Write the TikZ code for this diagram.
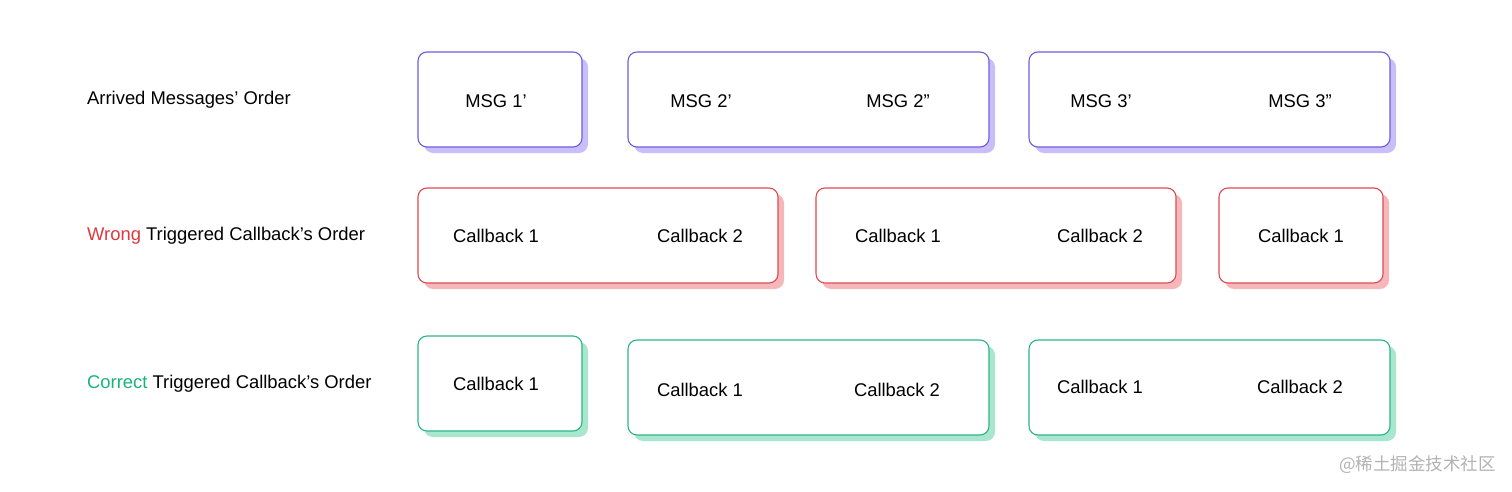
\documentclass[tikz,border=0pt]{standalone}
\usepackage{fontspec}
\setmainfont{Liberation Sans}
\newfontfamily\cjk{Noto Sans CJK SC}
\definecolor{bl}{HTML}{6F5BE0}\definecolor{bls}{HTML}{C9BEFA}
\definecolor{rd}{HTML}{DE4A50}\definecolor{rds}{HTML}{F6B7BA}
\definecolor{gn}{HTML}{2BB585}\definecolor{gns}{HTML}{A9E6CE}
\definecolor{rt}{HTML}{E0383E}\definecolor{gt}{HTML}{17B37B}
\tikzset{x=1pt,y=-1pt,
 lbl/.style={anchor=west,inner sep=0pt,font=\fontsize{18.4}{20}\selectfont},
 txt/.style={font=\fontsize{18.4}{20}\selectfont}}
\newcommand\bx[6]{% x1 y1 x2 y2 border shadow
 \fill[#6,rounded corners=9pt] (#1+6,#2+6) rectangle (#3+6,#4+6);
 \draw[#5,fill=white,line width=1.1pt,rounded corners=9pt] (#1,#2) rectangle (#3,#4);}
\begin{document}
\begin{tikzpicture}
\useasboundingbox (0,0) rectangle (1512,492);
\node[lbl] (l1) at (87,100) {Arrived Messages’ Order};
\node[lbl] (l2) at (87,236) {\textcolor{rt}{Wrong} Triggered Callback’s Order};
\node[lbl] (l3) at (87,384) {\textcolor{gt}{Correct} Triggered Callback’s Order};
\bx{418}{52}{582}{147}{bl}{bls}
\bx{628}{52}{989}{147}{bl}{bls}
\bx{1029}{52}{1390}{147}{bl}{bls}
\node[txt] (m1) at (496,101) {MSG 1’};
\node[txt] (m2a) at (701,101) {MSG 2’};
\node[txt] (m2b) at (898,101) {MSG 2”};
\node[txt] (m3a) at (1101,101) {MSG 3’};
\node[txt] (m3b) at (1300,101) {MSG 3”};
\bx{418}{188}{778}{283}{rd}{rds}
\bx{816}{188}{1176}{283}{rd}{rds}
\bx{1219}{188}{1383}{283}{rd}{rds}
\node[txt] (w1) at (496,236) {Callback 1};
\node[txt] (w2) at (700,236) {Callback 2};
\node[txt] (w3) at (898,236) {Callback 1};
\node[txt] (w4) at (1100,236) {Callback 2};
\node[txt] (w5) at (1301,236) {Callback 1};
\bx{418}{336}{582}{431}{gn}{gns}
\bx{628}{340}{989}{435}{gn}{gns}
\bx{1029}{340}{1390}{435}{gn}{gns}
\node[txt] (c1) at (496,384) {Callback 1};
\node[txt] (c2) at (700,390) {Callback 1};
\node[txt] (c3) at (897,390) {Callback 2};
\node[txt] (c4) at (1100,387) {Callback 1};
\node[txt] (c5) at (1300,387) {Callback 2};
\node[anchor=east,inner sep=0pt,text=gray!60,font=\cjk\fontsize{17.5}{19}\selectfont] (wm) at (1496,465) {@稀土掘金技术社区};
\end{tikzpicture}
\end{document}
